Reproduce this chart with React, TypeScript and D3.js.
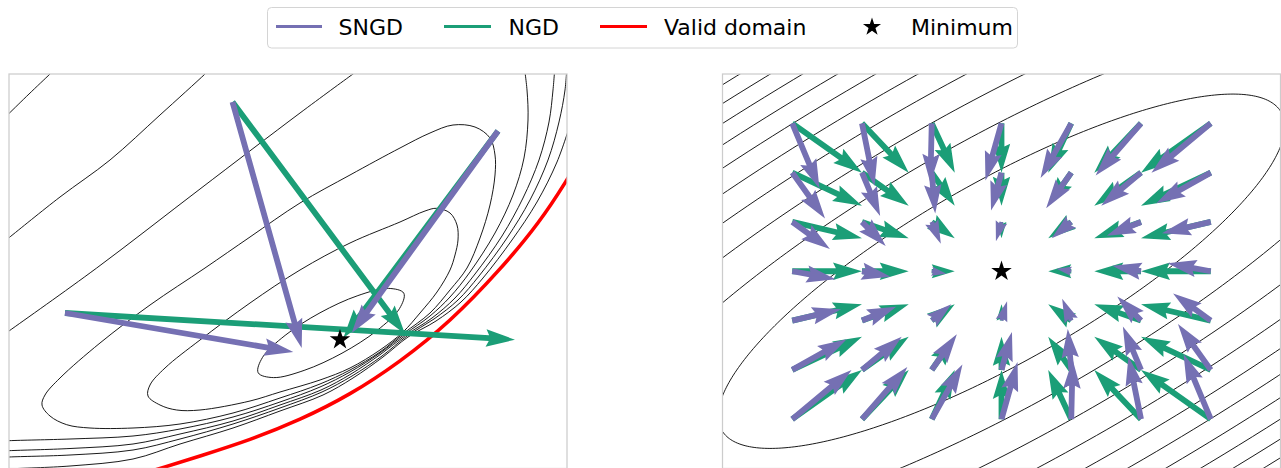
import React from 'react';
import * as d3 from 'd3';

const WIDTH = 1281;
const HEIGHT = 468;

const SNGD_COLOR = '#7570b3';
const NGD_COLOR = '#1b9e77';
const VALID_COLOR = '#ff0000';

const LEGEND_LABELS = ['SNGD', 'NGD', 'Valid domain', 'Minimum'];

// ---------------- left panel (parameter units) ----------------
const LEFT_X_DOMAIN: [number, number] = [0, 55.8];
const LEFT_Y_DOMAIN: [number, number] = [0, 39.45];

const LEFT_OPEN_CONTOURS: [number, number][][] = [
  [[-0.5, 35.0], [0, 35.5], [2.0, 37.45], [4.1, 39.45], [4.6, 39.93]],
  [[-0.6, 22.6], [0, 23.08], [5.1, 27.15], [10.1, 30.85], [15.1, 35.35], [19.6, 39.45], [20.1, 39.95]],
  [[-0.7, 13.25], [0, 13.75], [8.77, 20.05], [19.1, 27.95], [29.1, 35.55], [34.4, 39.45], [35.1, 39.95]],
  [[-0.9, 2.72], [0, 2.78], [6.1, 2.95], [12.4, 3.25], [17.1, 3.95], [22.4, 5.15], [27.1, 6.65], [31.1, 8.15], [34.1, 9.65], [37.1, 11.55], [39.6, 13.45], [42.1, 15.25], [44.1, 17.15], [46.1, 19.65], [48.6, 23.55], [50.4, 27.35], [51.5, 31.05], [51.9, 34.85], [51.8, 37.85], [51.5, 40.35]],
  [[-0.9, 1.72], [0, 1.78], [6.1, 2.0], [12.4, 2.45], [17.1, 3.45], [22.4, 4.75], [27.1, 6.35], [31.2, 7.85], [34.2, 9.45], [37.2, 11.45], [39.7, 13.35], [42.3, 15.05], [44.6, 17.05], [46.6, 19.45], [49.3, 23.25], [51.4, 27.05], [53.0, 30.85], [54.0, 34.65], [54.4, 37.85], [54.6, 40.35]],
  [[-0.9, 1.09], [0, 1.15], [6.1, 1.35], [12.4, 1.85], [17.1, 2.95], [22.4, 4.45], [27.1, 6.05], [31.3, 7.65], [34.3, 9.25], [37.3, 11.25], [39.8, 13.25], [42.5, 14.95], [44.9, 16.85], [47.0, 19.25], [49.8, 23.05], [52.1, 26.85], [53.9, 30.85], [55.0, 34.65], [55.6, 37.85], [55.8, 40.35]],
  [[-0.9, -0.15], [0, -0.05], [6.1, 0.25], [12.4, 0.95], [17.1, 2.45], [22.4, 4.05], [27.1, 5.75], [31.4, 7.35], [34.4, 9.05], [37.4, 11.15], [39.9, 13.15], [42.7, 14.75], [45.2, 16.65], [47.4, 19.05], [50.3, 22.85], [52.8, 26.65], [54.8, 30.65], [56.1, 34.35]],
];

const LEFT_CLOSED_CONTOURS: [number, number][][] = [
  [[44.4, 34.35], [46.6, 34.15], [48.1, 33.05], [48.6, 31.35], [48.6, 29.35], [48.1, 26.35], [47.1, 23.05], [45.8, 20.05], [44.1, 17.85], [42.1, 15.55], [39.5, 13.55], [37.1, 11.65], [34.1, 9.85], [31.1, 8.45], [27.1, 7.05], [22.4, 5.55], [17.1, 4.45], [12.4, 4.05], [8.1, 4.05], [5.77, 4.38], [4.1, 5.25], [3.3, 6.35], [3.6, 7.35], [5.1, 9.05], [9.1, 12.55], [14.1, 16.35], [19.6, 20.05], [24.1, 23.15], [29.1, 26.55], [34.1, 29.35], [39.1, 32.05], [42.1, 33.55]],
  [[42.77, 26.02], [44.1, 25.55], [44.8, 24.35], [44.9, 22.85], [44.6, 21.35], [44.1, 19.85], [42.8, 17.65], [41.1, 15.55], [39.4, 13.65], [37.1, 11.85], [34.1, 10.05], [31.1, 8.85], [27.1, 7.65], [24.1, 6.75], [19.1, 5.85], [16.77, 5.85], [15.1, 6.35], [13.9, 7.25], [14.1, 8.35], [15.6, 10.05], [19.1, 12.85], [24.1, 16.55], [29.1, 19.85], [34.1, 22.55], [39.1, 24.65], [41.6, 25.75]],
  [[39.48, 17.53], [39.05, 15.99], [36.79, 13.79], [33.3, 11.53], [29.51, 9.81], [26.45, 9.09], [24.92, 9.57], [25.35, 11.11], [27.61, 13.31], [31.1, 15.57], [34.89, 17.29], [37.95, 18.01]],
];

const VALID_DOMAIN: [number, number][] = [
  [14.1, -0.3], [15.1, 0], [19.1, 1.25], [24.1, 2.85], [29.1, 4.85], [34.1, 7.35], [39.1, 10.65], [44.1, 14.65], [49.1, 19.85], [53.1, 24.65], [55.8, 28.85], [57.1, 31.05],
];

const LEFT_MINIMUM: [number, number] = [33.1, 12.88];
const LEFT_STARTS: [number, number][] = [[5.6, 15.55], [22.35, 36.65], [48.9, 33.75]];
const LEFT_SNGD_STEPS: [number, number][] = [[22.83, -3.9], [6.92, -24.6], [-14.63, -20.2]];
const LEFT_NGD_STEPS: [number, number][] = [[45.0, -2.67], [17.25, -23.2], [-15.47, -20.7]];

// ---------------- right panel ----------------
const RIGHT_X_DOMAIN: [number, number] = [-4, 4];
const RIGHT_Y_DOMAIN: [number, number] = [-4, 4];
const GRID_X = [-3, -2, -1, 0, 1, 2, 3];
const GRID_Y = [3, 2, 1, 0, -1, -2, -3];

const NGD_U = [
  [1, 0.67, 0.33, 0, -0.33, -0.67, -1],
  [1, 0.67, 0.33, 0, -0.33, -0.67, -1],
  [1, 0.67, 0.33, 0, -0.33, -0.67, -1],
  [1, 0.67, 0.33, 0, -0.33, -0.67, -1],
  [1, 0.67, 0.33, 0, -0.33, -0.67, -1],
  [1, 0.67, 0.33, 0, -0.33, -0.67, -1],
  [1, 0.67, 0.33, 0, -0.33, -0.67, -1],
];
const NGD_V = [
  [-1, -1, -1, -1, -1, -1, -1],
  [-0.67, -0.67, -0.67, -0.67, -0.67, -0.67, -0.67],
  [-0.33, -0.33, -0.33, -0.33, -0.33, -0.33, -0.33],
  [0, 0, 0, 0, 0, 0, 0],
  [0.33, 0.33, 0.33, 0.33, 0.33, 0.33, 0.33],
  [0.67, 0.67, 0.67, 0.67, 0.67, 0.67, 0.67],
  [1, 1, 1, 1, 1, 1, 1],
];
const SNGD_U = [
  [0.39, 0.18, -0.02, -0.23, -0.44, -0.65, -0.85],
  [0.47, 0.26, 0.05, -0.15, -0.36, -0.57, -0.78],
  [0.54, 0.34, 0.13, -0.08, -0.28, -0.49, -0.70],
  [0.62, 0.41, 0.21, 0, -0.21, -0.41, -0.62],
  [0.70, 0.49, 0.28, 0.08, -0.13, -0.34, -0.54],
  [0.78, 0.57, 0.36, 0.15, -0.05, -0.26, -0.47],
  [0.85, 0.65, 0.44, 0.23, 0.02, -0.18, -0.39],
];
const SNGD_V = [
  [-1.32, -1.27, -1.21, -1.16, -1.11, -1.06, -1.0],
  [-0.93, -0.88, -0.83, -0.77, -0.72, -0.67, -0.62],
  [-0.55, -0.49, -0.44, -0.39, -0.33, -0.28, -0.23],
  [-0.16, -0.11, -0.05, 0, 0.05, 0.11, 0.16],
  [0.23, 0.28, 0.33, 0.39, 0.44, 0.49, 0.55],
  [0.62, 0.67, 0.72, 0.77, 0.83, 0.88, 0.93],
  [1.0, 1.06, 1.11, 1.16, 1.21, 1.27, 1.32],
];
const RIGHT_MINIMUM: [number, number] = [0, 0];
const QUAD_FORM = [[1, -0.923], [-0.923, 1.278]];
const RIGHT_LEVELS = [5.5, 11.8, 18.1, 24.4, 30.7, 37.0, 43.3, 49.6, 55.9, 62.2, 68.5];

// ---------------- layout ----------------
const LEFT_BOX = { x0: 9, x1: 567, y0: 74, y1: 468.5 };
const RIGHT_BOX = { x0: 722.5, x1: 1280.5, y0: 74, y1: 468.5 };
const ARROW_W = 5.8;

function quiverPolygon(x0: number, y0: number, dx: number, dy: number, w: number): string {
  const len = Math.hypot(dx, dy) / w;
  if (len < 1e-6) return '';
  const HW = 3, HL = 5, HAL = 4.5, MINSH = HL;
  let X: number[], Y: number[];
  if (len < MINSH) {
    const s = len / MINSH;
    X = [0, MINSH - HAL, MINSH - HL, MINSH, MINSH - HL, MINSH - HAL, 0].map(v => v * s);
    Y = [0.5, 0.5, 0.5 * HW, 0, -0.5 * HW, -0.5, -0.5].map(v => v * s);
  } else {
    X = [0, len - HAL, len - HL, len, len - HL, len - HAL, 0];
    Y = [0.5, 0.5, 0.5 * HW, 0, -0.5 * HW, -0.5, -0.5];
  }
  const th = Math.atan2(dy, dx);
  const c = Math.cos(th), s = Math.sin(th);
  return X.map((xv, i) => {
    const yv = Y[i];
    return `${(x0 + (xv * c - yv * s) * w).toFixed(2)},${(y0 + (xv * s + yv * c) * w).toFixed(2)}`;
  }).join(' ');
}

function starPoints(cx: number, cy: number, R: number): string {
  const r = R * 0.381966;
  const pts: string[] = [];
  for (let i = 0; i < 10; i++) {
    const a = -Math.PI / 2 + (i * Math.PI) / 5;
    const rr = i % 2 === 0 ? R : r;
    pts.push(`${(cx + rr * Math.cos(a)).toFixed(2)},${(cy + rr * Math.sin(a)).toFixed(2)}`);
  }
  return pts.join(' ');
}

function ellipsePoints(A: number[][], k: number, n = 360): [number, number][] {
  const a = A[0][0], b = A[0][1], c = A[1][1];
  const m = (a + c) / 2;
  const d = Math.sqrt(((a - c) / 2) ** 2 + b * b);
  const l1 = m - d, l2 = m + d;
  let e1 = [b, l1 - a];
  const n1 = Math.hypot(e1[0], e1[1]);
  e1 = [e1[0] / n1, e1[1] / n1];
  const e2 = [-e1[1], e1[0]];
  const r1 = Math.sqrt(k / l1), r2 = Math.sqrt(k / l2);
  return d3.range(n).map(i => {
    const t = (2 * Math.PI * i) / n;
    const p = r1 * Math.cos(t), q = r2 * Math.sin(t);
    return [p * e1[0] + q * e2[0], p * e1[1] + q * e2[1]] as [number, number];
  });
}

export default function App() {
  const xL = d3.scaleLinear().domain(LEFT_X_DOMAIN).range([LEFT_BOX.x0, LEFT_BOX.x1]);
  const yL = d3.scaleLinear().domain(LEFT_Y_DOMAIN).range([LEFT_BOX.y1, LEFT_BOX.y0]);
  const xR = d3.scaleLinear().domain(RIGHT_X_DOMAIN).range([RIGHT_BOX.x0, RIGHT_BOX.x1]);
  const yR = d3.scaleLinear().domain(RIGHT_Y_DOMAIN).range([RIGHT_BOX.y1, RIGHT_BOX.y0]);

  const lineOpenL = d3.line<[number, number]>().x(d => xL(d[0])).y(d => yL(d[1])).curve(d3.curveCatmullRom.alpha(0.5));
  const lineClosedL = d3.line<[number, number]>().x(d => xL(d[0])).y(d => yL(d[1])).curve(d3.curveCatmullRomClosed.alpha(0.5));
  const lineSmoothL = d3.line<[number, number]>().x(d => xL(d[0])).y(d => yL(d[1])).curve(d3.curveBasis);
  const lineR = d3.line<[number, number]>().x(d => xR(d[0])).y(d => yR(d[1])).curve(d3.curveLinearClosed);

  const leftArrows = (steps: [number, number][]) =>
    LEFT_STARTS.map((s, i) => {
      const x0 = xL(s[0]), y0 = yL(s[1]);
      const x1 = xL(s[0] + steps[i][0]), y1 = yL(s[1] + steps[i][1]);
      return quiverPolygon(x0, y0, x1 - x0, y1 - y0, ARROW_W);
    });

  const fieldArrows = (U: number[][], V: number[][]) => {
    const out: string[] = [];
    GRID_Y.forEach((gy, r) => {
      GRID_X.forEach((gx, c) => {
        const u = U[r][c], v = V[r][c];
        if (u === 0 && v === 0) return;
        const x0 = xR(gx), y0 = yR(gy);
        const x1 = xR(gx + u), y1 = yR(gy + v);
        out.push(quiverPolygon(x0, y0, x1 - x0, y1 - y0, ARROW_W));
      });
    });
    return out;
  };

  const font = "'DejaVu Sans', sans-serif";
  const legendY = 26.5;
  const legendItems = [
    { kind: 'line', color: SNGD_COLOR, hx: [276, 322], tx: 338.5 },
    { kind: 'line', color: NGD_COLOR, hx: [444, 491], tx: 508.5 },
    { kind: 'line', color: VALID_COLOR, hx: [600, 647], tx: 664 },
    { kind: 'star', color: '#000', hx: [872, 872], tx: 911 },
  ];

  return (
    <svg width={WIDTH} height={HEIGHT} style={{ position: 'absolute', left: 0, top: 0, background: '#fff' }}>
      <defs>
        <clipPath id="clipL">
          <rect x={LEFT_BOX.x0} y={LEFT_BOX.y0} width={LEFT_BOX.x1 - LEFT_BOX.x0} height={LEFT_BOX.y1 - LEFT_BOX.y0} />
        </clipPath>
        <clipPath id="clipR">
          <rect x={RIGHT_BOX.x0} y={RIGHT_BOX.y0} width={RIGHT_BOX.x1 - RIGHT_BOX.x0} height={RIGHT_BOX.y1 - RIGHT_BOX.y0} />
        </clipPath>
      </defs>
      <rect x={0} y={0} width={WIDTH} height={HEIGHT} fill="#fff" />

      {/* Left panel */}
      <g clipPath="url(#clipL)">
        {LEFT_OPEN_CONTOURS.map((c, i) => (
          <path key={'lo' + i} d={lineOpenL(c) || ''} fill="none" stroke="#000" strokeWidth={0.9} />
        ))}
        {LEFT_CLOSED_CONTOURS.map((c, i) => (
          <path key={'lc' + i} d={lineClosedL(c) || ''} fill="none" stroke="#000" strokeWidth={0.9} />
        ))}
        <path d={lineSmoothL(VALID_DOMAIN) || ''} fill="none" stroke={VALID_COLOR} strokeWidth={3.6} />
        {leftArrows(LEFT_NGD_STEPS).map((p, i) => <polygon key={'ln' + i} points={p} fill={NGD_COLOR} />)}
        {leftArrows(LEFT_SNGD_STEPS).map((p, i) => <polygon key={'ls' + i} points={p} fill={SNGD_COLOR} />)}
        <polygon points={starPoints(xL(LEFT_MINIMUM[0]), yL(LEFT_MINIMUM[1]), 10.8)} fill="#000" />
      </g>
      <rect x={LEFT_BOX.x0} y={LEFT_BOX.y0} width={LEFT_BOX.x1 - LEFT_BOX.x0} height={LEFT_BOX.y1 - LEFT_BOX.y0} fill="none" stroke="#cccccc" strokeWidth={1.25} />

      {/* Right panel */}
      <g clipPath="url(#clipR)">
        {RIGHT_LEVELS.map((k, i) => (
          <path key={'rc' + i} d={lineR(ellipsePoints(QUAD_FORM, k)) || ''} fill="none" stroke="#000" strokeWidth={0.9} />
        ))}
        {fieldArrows(NGD_U, NGD_V).map((p, i) => <polygon key={'rn' + i} points={p} fill={NGD_COLOR} />)}
        {fieldArrows(SNGD_U, SNGD_V).map((p, i) => <polygon key={'rs' + i} points={p} fill={SNGD_COLOR} />)}
        <polygon points={starPoints(xR(RIGHT_MINIMUM[0]), yR(RIGHT_MINIMUM[1]), 10.8)} fill="#000" />
      </g>
      <rect x={RIGHT_BOX.x0} y={RIGHT_BOX.y0} width={RIGHT_BOX.x1 - RIGHT_BOX.x0} height={RIGHT_BOX.y1 - RIGHT_BOX.y0} fill="none" stroke="#cccccc" strokeWidth={1.25} />

      {/* Legend */}
      <rect x={267.5} y={7.5} width={750} height={40.5} rx={4} fill="#fff" stroke="#d4d4d4" strokeWidth={1} />
      {legendItems.map((it, i) => (
        <g key={'lg' + i}>
          {it.kind === 'line' ? (
            <line x1={it.hx[0]} x2={it.hx[1]} y1={legendY} y2={legendY} stroke={it.color} strokeWidth={3} />
          ) : (
            <polygon points={starPoints(it.hx[0], legendY + 0.5, 9.5)} fill="#000" />
          )}
          <text x={it.tx} y={35} fontFamily={font} fontSize={22} fill="#000">{LEGEND_LABELS[i]}</text>
        </g>
      ))}
    </svg>
  );
}
